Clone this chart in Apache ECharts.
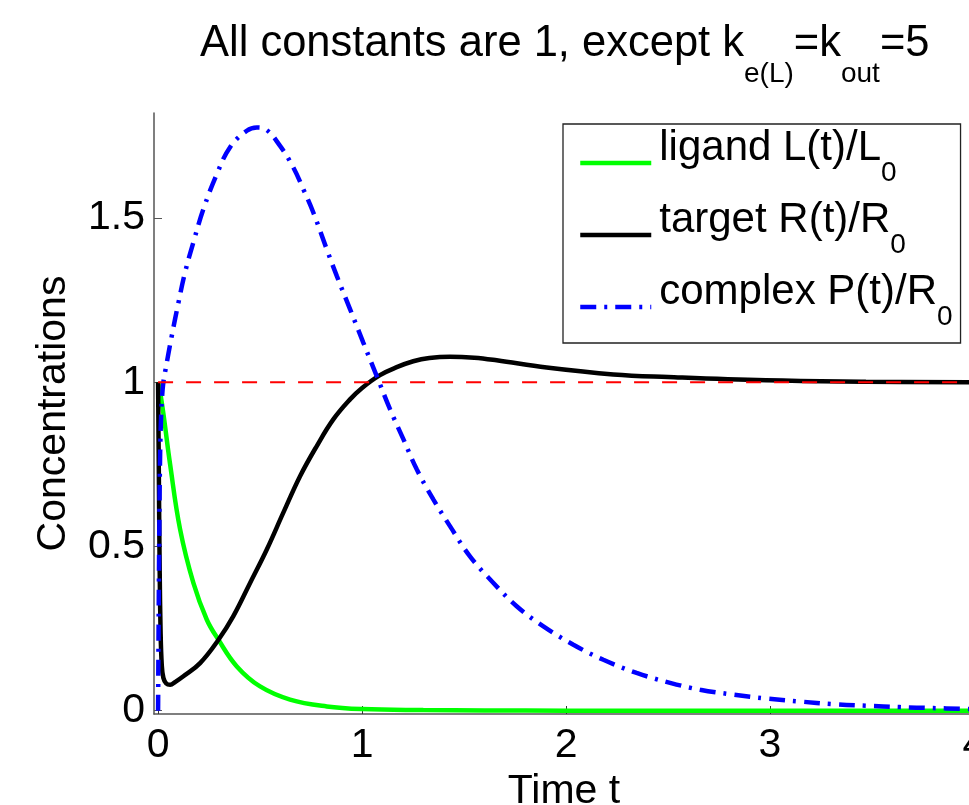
<!DOCTYPE html>
<html>
<head>
<meta charset="utf-8">
<script src="https://cdn.jsdelivr.net/npm/echarts@6/dist/echarts.min.js"></script>
<style>
  html, body { margin: 0; padding: 0; background: #fff; }
  #chart { width: 969px; height: 805px; }
</style>
</head>
<body>
<div id="chart"></div>
<script>
// values
const ligandT = [0, 0.01, 0.026, 0.059, 0.108, 0.173, 0.239, 0.296, 0.386, 0.5, 0.647, 0.827, 1.0, 1.3, 1.6, 2.0, 2.5, 3.0, 3.5, 4.0];
const ligandV = [1, 0.97, 0.905, 0.75, 0.552, 0.389, 0.277, 0.216, 0.135, 0.074, 0.034, 0.013, 0.005, 0.002, 0.001, 0, 0, 0, 0, 0];

const targetT = [0, 0.004, 0.008, 0.012, 0.018, 0.026, 0.04, 0.059, 0.085, 0.124, 0.206, 0.296, 0.369, 0.451, 0.533, 0.614, 0.696, 0.778, 0.859, 0.941, 1.0, 1.088, 1.17, 1.251, 1.33, 1.431, 1.55, 1.66, 1.905, 2.232, 2.5, 2.98, 3.47, 4.0];
const targetV = [1, 0.7, 0.42, 0.25, 0.14, 0.1, 0.083, 0.079, 0.088, 0.105, 0.145, 0.216, 0.288, 0.389, 0.491, 0.603, 0.714, 0.806, 0.887, 0.948, 0.983, 1.022, 1.046, 1.064, 1.074, 1.078, 1.075, 1.067, 1.045, 1.024, 1.016, 1.006, 1.002, 1.0];

const complexT = [0, 0.003, 0.006, 0.01, 0.015, 0.02, 0.026, 0.034, 0.067, 0.1, 0.132, 0.173, 0.222, 0.288, 0.353, 0.435, 0.484, 0.525, 0.598, 0.663, 0.712, 0.761, 0.827, 0.876, 0.941, 1.006, 1.072, 1.137, 1.203, 1.268, 1.35, 1.431, 1.529, 1.644, 1.758, 1.889, 2.036, 2.183, 2.346, 2.51, 2.657, 2.82, 2.984, 3.147, 3.31, 3.474, 3.637, 3.8, 4.0];
const complexV = [0, 0.3, 0.55, 0.78, 0.9, 0.96, 1.0, 1.03, 1.141, 1.243, 1.334, 1.426, 1.527, 1.634, 1.716, 1.766, 1.776, 1.771, 1.72, 1.654, 1.588, 1.517, 1.405, 1.324, 1.223, 1.121, 1.019, 0.918, 0.826, 0.735, 0.643, 0.562, 0.47, 0.389, 0.318, 0.257, 0.201, 0.155, 0.115, 0.085, 0.064, 0.049, 0.037, 0.028, 0.02, 0.015, 0.011, 0.008, 0.005];

const refT = [0, 4.0];
const refV = [1, 1];

const xTicks = [0, 1, 2, 3, 4];
const xTickLabels = ['0', '1', '2', '3', '4'];
const yTicks = [0, 0.5, 1, 1.5];
const yTickLabels = ['0', '0.5', '1', '1.5'];

const seriesNames = ['ligand', 'target', 'complex'];
const legendMain = ['ligand L(t)/L', 'target R(t)/R', 'complex P(t)/R'];
const legendSub = ['0', '0', '0'];

function zip(t, v) {
  return t.map(function (x, i) { return [x, v[i]]; });
}

const font = 'Liberation Sans, Arial, Helvetica, sans-serif';
const chart = echarts.init(document.getElementById('chart'));

const option = {
  animation: false,
  backgroundColor: '#fff',
  title: {
    text: '{a|All constants are 1, except k}{s|e(L)}{a|=k}{s|out}{a|=5}',
    left: 200,
    top: 22,
    padding: 0,
    textStyle: {
      rich: {
        a: { fontSize: 43.5, fontWeight: 'normal', fontFamily: font, color: '#000', verticalAlign: 'top' },
        s: { fontSize: 28, fontWeight: 'normal', fontFamily: font, color: '#000', verticalAlign: 'top', padding: [38, 0, 0, 0] }
      }
    }
  },
  legend: {
    data: seriesNames,
    orient: 'vertical',
    left: 563,
    top: 124,
    padding: [3, 8, 12, 15],
    itemGap: 12,
    itemWidth: 71,
    itemHeight: 14,
    borderColor: '#222',
    borderWidth: 1.3,
    backgroundColor: '#fff',
    itemStyle: { opacity: 0 },
    lineStyle: { width: 4.5 },
    formatter: function (name) {
      const i = seriesNames.indexOf(name);
      return '{a|' + legendMain[i] + '}{s|' + legendSub[i] + '}';
    },
    textStyle: {
      rich: {
        a: { fontSize: 42, fontFamily: font, color: '#000', verticalAlign: 'top', padding: [0, 0, 0, 3] },
        s: { fontSize: 28, fontFamily: font, color: '#000', verticalAlign: 'top', padding: [32, 0, 12, 0] }
      }
    }
  },
  grid: {
    left: 154,
    top: 113,
    right: -5,
    bottom: 91,
    containLabel: false,
    outerBoundsMode: 'none'
  },
  xAxis: {
    type: 'value',
    min: -0.02,
    max: 4.0,
    name: 'Time t',
    nameLocation: 'middle',
    nameGap: 53,
    nameTextStyle: { fontSize: 41, fontFamily: font, color: '#000' },
    axisLine: { show: true, onZero: false, lineStyle: { color: '#555', width: 1.5 } },
    axisTick: { show: true, inside: true, length: 8, customValues: xTicks, lineStyle: { color: '#333', width: 1 } },
    axisLabel: {
      customValues: xTicks,
      margin: 11,
      fontSize: 41,
      fontFamily: font,
      color: '#000',
      formatter: function (v) { return xTickLabels[xTicks.indexOf(v)]; }
    },
    splitLine: { show: false }
  },
  yAxis: {
    type: 'value',
    min: -0.01,
    max: 1.82,
    name: 'Concentrations',
    nameLocation: 'middle',
    nameRotate: 90,
    nameGap: 80,
    nameTextStyle: { fontSize: 41, fontFamily: font, color: '#000' },
    axisLine: { show: true, onZero: false, lineStyle: { color: '#555', width: 1.5 } },
    axisTick: { show: true, inside: true, length: 8, customValues: yTicks, lineStyle: { color: '#555', width: 1 } },
    axisLabel: {
      customValues: yTicks,
      margin: 9,
      fontSize: 41,
      fontFamily: font,
      color: '#000',
      formatter: function (v) { return yTickLabels[yTicks.indexOf(v)]; }
    },
    splitLine: { show: false }
  },
  series: [
    {
      name: 'ligand',
      type: 'line',
      data: zip(ligandT, ligandV),
      symbol: 'none',
      smooth: 0.4,
      lineStyle: { color: '#00ff00', width: 4.5 },
      itemStyle: { color: '#00ff00' }
    },
    {
      name: 'target',
      type: 'line',
      data: zip(targetT, targetV),
      symbol: 'none',
      smooth: 0.4,
      lineStyle: { color: '#000', width: 4.5 },
      itemStyle: { color: '#000' }
    },
    {
      name: 'complex',
      type: 'line',
      data: zip(complexT, complexV),
      symbol: 'none',
      smooth: 0.4,
      lineStyle: { color: '#0000ff', width: 4.5, type: [16, 8, 3, 8] },
      itemStyle: { color: '#0000ff' }
    },
    {
      name: 'ref',
      type: 'line',
      data: zip(refT, refV),
      symbol: 'none',
      lineStyle: { color: '#ff0000', width: 2, type: [15, 13] },
      itemStyle: { color: '#ff0000' }
    }
  ]
};

chart.setOption(option);
window.addEventListener('resize', function () {
  chart.resize();
});
</script>
</body>
</html>
